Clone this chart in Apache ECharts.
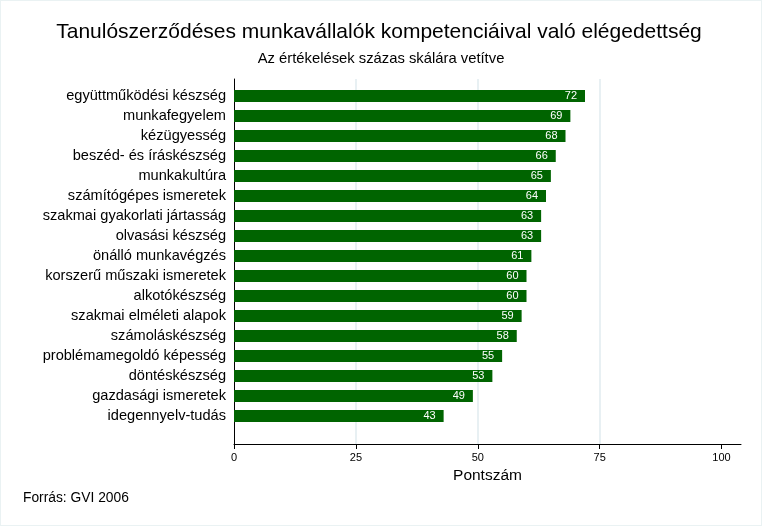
<!DOCTYPE html>
<html><head><meta charset="utf-8">
<script src="https://cdn.jsdelivr.net/npm/echarts@6/dist/echarts.min.js"></script>
<style>
html,body{margin:0;padding:0;background:#eaf2f3;}
#wrap{position:absolute;left:0;top:0;width:762px;height:526px;background:#eaf2f3;}
#chart{position:absolute;left:1px;top:1px;width:760px;height:524px;background:#fff;}
</style></head>
<body><div id="wrap"><div id="chart"></div></div>
<script>
const categories = ['együttműködési készség','munkafegyelem','kézügyesség','beszéd- és íráskészség','munkakultúra','számítógépes ismeretek','szakmai gyakorlati jártasság','olvasási készség','önálló munkavégzés','korszerű műszaki ismeretek','alkotókészség','szakmai elméleti alapok','számoláskészség','problémamegoldó képesség','döntéskészség','gazdasági ismeretek','idegennyelv-tudás'];
const values = [72,69,68,66,65,64,63,63,61,60,60,59,58,55,53,49,43];
const xTicks = [0,25,50,75,100];

const font = "'Liberation Sans', Arial, sans-serif";
const chart = echarts.init(document.getElementById('chart'), null, {renderer:'canvas'});
chart.setOption({
  animation:false,
  backgroundColor:'#fff',
  textStyle:{fontFamily:font},
  title:[
    {text:'Tanulószerződéses munkavállalók kompetenciáival való elégedettség', left:373, textAlign:'center', top:16,
     textStyle:{fontSize:21, fontWeight:'normal', color:'#000', fontFamily:font}},
    {text:'Az értékelések százas skálára vetítve', left:375, textAlign:'center', top:45,
     textStyle:{fontSize:14.8, fontWeight:'normal', color:'#000', fontFamily:font}},
    {text:'Forrás: GVI 2006', left:17, top:485,
     textStyle:{fontSize:13.8, fontWeight:'normal', color:'#000', fontFamily:font}}
  ],
  grid:[
    {left:233, right:20, top:85, height:340},
    {left:233, right:20, top:78, bottom:81}
  ],
  xAxis:[
    {gridIndex:0, type:'value', min:0, max:104, show:false},
    {gridIndex:1, type:'value', min:0, max:104, interval:25,
     name:'Pontszám', nameLocation:'middle', nameGap:22,
     nameTextStyle:{fontSize:15.5, color:'#000', fontFamily:font},
     axisLine:{show:true, lineStyle:{color:'#000', width:1}},
     axisTick:{show:true, length:5, customValues:xTicks, lineStyle:{color:'#000'}},
     axisLabel:{customValues:xTicks, fontSize:11, color:'#000', margin:8, fontFamily:font},
     splitLine:{show:true, showMinLine:false, showMaxLine:false, lineStyle:{color:'#e8f0f3', width:2}}
    }
  ],
  yAxis:[
    {gridIndex:0, type:'category', data:categories, inverse:true,
     axisLine:{show:false}, axisTick:{show:false},
     axisLabel:{fontSize:14.6, color:'#000', margin:8, fontFamily:font}},
    {gridIndex:1, type:'value', min:0, max:1,
     axisLine:{show:true, lineStyle:{color:'#000', width:1}},
     axisTick:{show:false}, axisLabel:{show:false}, splitLine:{show:false}}
  ],
  series:[{
    type:'bar', xAxisIndex:0, yAxisIndex:0, data:values, barWidth:12,
    itemStyle:{color:'#006400'},
    label:{show:true, position:'insideRight', distance:8, color:'#fff', fontSize:11, fontFamily:font}
  }]
});
</script></body></html>
